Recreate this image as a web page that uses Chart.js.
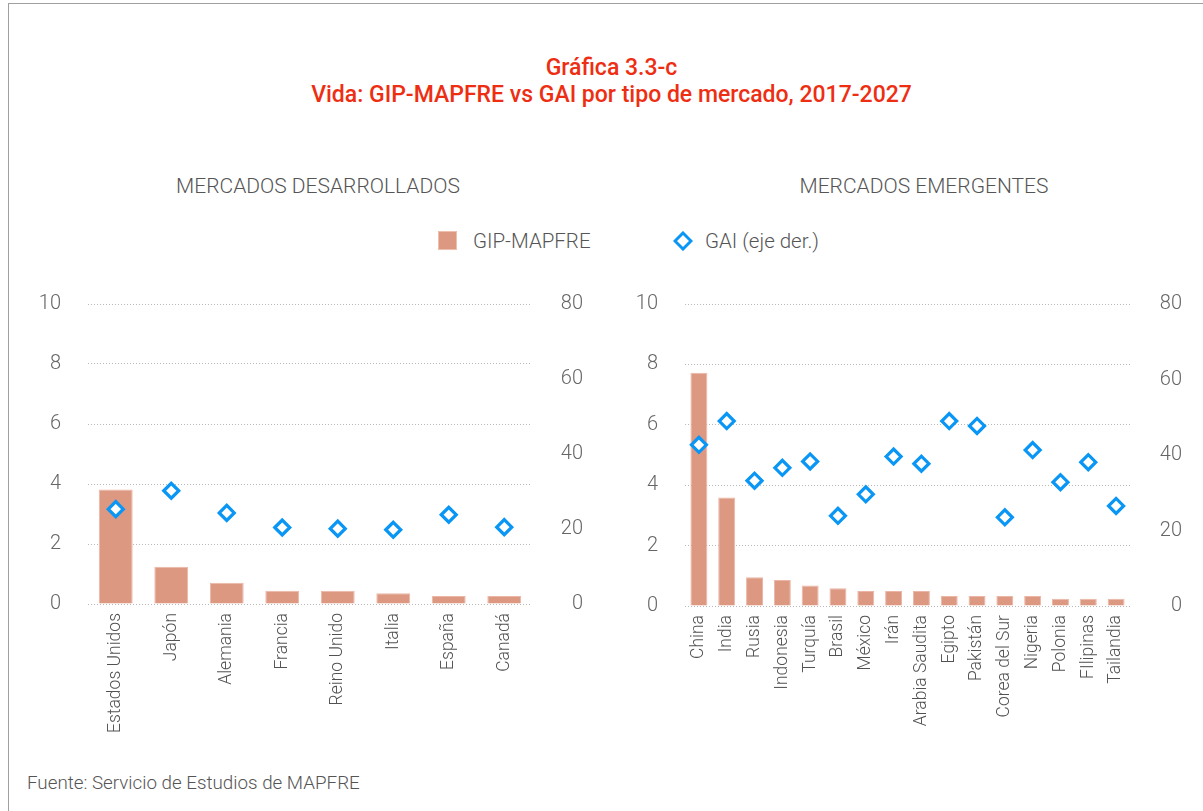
<!DOCTYPE html>
<html>
<head>
<meta charset="utf-8">
<script src="https://cdn.jsdelivr.net/npm/chart.js@4/dist/chart.umd.min.js"></script>
<style>
  html, body { margin:0; padding:0; background:#fff; }
  body { width:1203px; height:811px; position:relative; overflow:hidden; font-family: Roboto, "Liberation Sans", sans-serif; }
  #frame { position:absolute; left:8px; top:3px; width:1200px; height:820px; border-left:1px solid #a0a0a0; border-top:1px solid #a0a0a0; }
  .title { position:absolute; left:0; width:1223px; text-align:center; color:#ee2e12; font-weight:500; font-size:23px; line-height:27px; }
  .sub { position:absolute; color:#555555; font-size:21px; font-weight:300; text-align:center; line-height:24px; }
  #legend { position:absolute; top:229px; left:438px; height:24px; font-size:20.5px; font-weight:300; color:#555555; }
  .lg-item { position:absolute; top:0; white-space:nowrap; line-height:24px; }
  .sw { position:absolute; }
  #footer { position:absolute; left:27px; top:771px; font-size:18.8px; font-weight:300; color:#555555; line-height:24px; }
  canvas { position:absolute; }
</style>
</head>
<body>
<div id="frame"></div>
<div class="title" style="top:54px;">Gráfica 3.3-c</div>
<div class="title" style="top:81px;">Vida: GIP-MAPFRE vs GAI por tipo de mercado, 2017-2027</div>
<div class="sub" style="left:118px; width:400px; top:174px;">MERCADOS DESARROLLADOS</div>
<div class="sub" style="left:724px; width:400px; top:174px;">MERCADOS EMERGENTES</div>
<div id="legend">
  <div class="sw" style="left:0; top:2px; width:17px; height:17px; background:#dd9882; border:1.5px solid #efbfae;"></div>
  <div class="lg-item" style="left:35px;">GIP-MAPFRE</div>
  <svg class="sw" style="left:235px; top:2px;" width="20" height="20" viewBox="0 0 20 20"><path d="M10 2 L18 10 L10 18 L2 10 Z" fill="#fff" stroke="#0a96f5" stroke-width="3"/></svg>
  <div class="lg-item" style="left:267px;">GAI (eje der.)</div>
</div>
<div id="footer">Fuente: Servicio de Estudios de MAPFRE</div>
<canvas id="c1" width="590" height="485" style="left:20px; top:265px; width:590px; height:485px;"></canvas>
<canvas id="c2" width="593" height="485" style="left:610px; top:265px; width:593px; height:485px;"></canvas>
<script>
// ---- Data ----
const desCategories = ['Estados Unidos','Japón','Alemania','Francia','Reino Unido','Italia','España','Canadá'];
const desGip = [3.82, 1.24, 0.71, 0.44, 0.44, 0.36, 0.27, 0.27];
const desGai = [25.3, 30.2, 24.3, 20.4, 20.1, 19.8, 23.8, 20.5];

const emeCategories = ['China','India','Rusia','Indonesia','Turquía','Brasil','México','Irán','Arabia Saudita','Egipto','Pakistán','Corea del Sur','Nigeria','Polonia','FIlipinas','Tailandia'];
const emeGip = [7.72, 3.59, 0.95, 0.86, 0.68, 0.59, 0.50, 0.50, 0.50, 0.33, 0.33, 0.33, 0.33, 0.24, 0.24, 0.24];
const emeGai = [42.7, 49.0, 33.2, 36.6, 38.3, 23.9, 29.6, 39.6, 37.7, 49.0, 47.7, 23.5, 41.3, 32.8, 38.1, 26.5];

const leftTicks = [0, 2, 4, 6, 8, 10];
const rightTicks = [0, 20, 40, 60, 80];

const BAR = '#dd9882', BAR_BORDER = '#ebb6a5', BLUE = '#0a96f5';
const FONT = 'Roboto, "Liberation Sans", sans-serif';

function makeChart(id, cats, gip, gai, dims) {
  return new Chart(document.getElementById(id), {
    data: {
      labels: cats,
      datasets: [
        { type: 'line', label: 'GAI (eje der.)', data: gai, yAxisID: 'y1', showLine: false,
          pointStyle: 'rectRot', pointRadius: 7.5, pointHoverRadius: 7.5, pointBorderWidth: 3.2,
          pointBackgroundColor: '#ffffff', pointBorderColor: BLUE, order: 0 },
        { type: 'bar', label: 'GIP-MAPFRE', data: gip, yAxisID: 'y', backgroundColor: BAR,
          borderColor: BAR_BORDER, borderWidth: 1, categoryPercentage: 1, barPercentage: 0.61, order: 1 }
      ]
    },
    options: {
      responsive: false, animation: false, events: [],
      layout: { padding: { top: 13, right: dims.padRight, left: 0, bottom: 0 } },
      plugins: { legend: { display: false }, tooltip: { enabled: false } },
      scales: {
        x: {
          grid: { display: false, drawTicks: false }, border: { display: false },
          ticks: { maxRotation: 90, minRotation: 90, autoSkip: false, padding: 9,
                   color: '#525252', font: { family: FONT, size: 17.5, weight: 300 } },
          afterFit: s => { s.height = dims.xHeight; }
        },
        y: {
          position: 'left', min: 0, max: 10,
          afterBuildTicks: s => { s.ticks = leftTicks.map(v => ({ value: v })); },
          grid: { color: '#b8b8b8', lineWidth: 1, drawTicks: false },
          border: { display: false, dash: [1, 2] },
          ticks: { padding: 27, color: '#666666', font: { family: FONT, size: 20, weight: 300 } },
          afterFit: s => { s.width = dims.yWidth; }
        },
        y1: {
          position: 'right', min: 0, max: 80,
          afterBuildTicks: s => { s.ticks = rightTicks.map(v => ({ value: v })); },
          grid: { display: false, drawTicks: false }, border: { display: false },
          ticks: { crossAlign: 'far', padding: 20, color: '#666666', font: { family: FONT, size: 20, weight: 300 } },
          afterFit: s => { s.width = dims.y1Width; }
        }
      }
    }
  });
}

makeChart('c1', desCategories, desGip, desGai, { padRight: 27, xHeight: 146, yWidth: 68, y1Width: 51 });
makeChart('c2', emeCategories, emeGip, emeGai, { padRight: 21, xHeight: 144, yWidth: 75, y1Width: 52 });
</script>
</body>
</html>
